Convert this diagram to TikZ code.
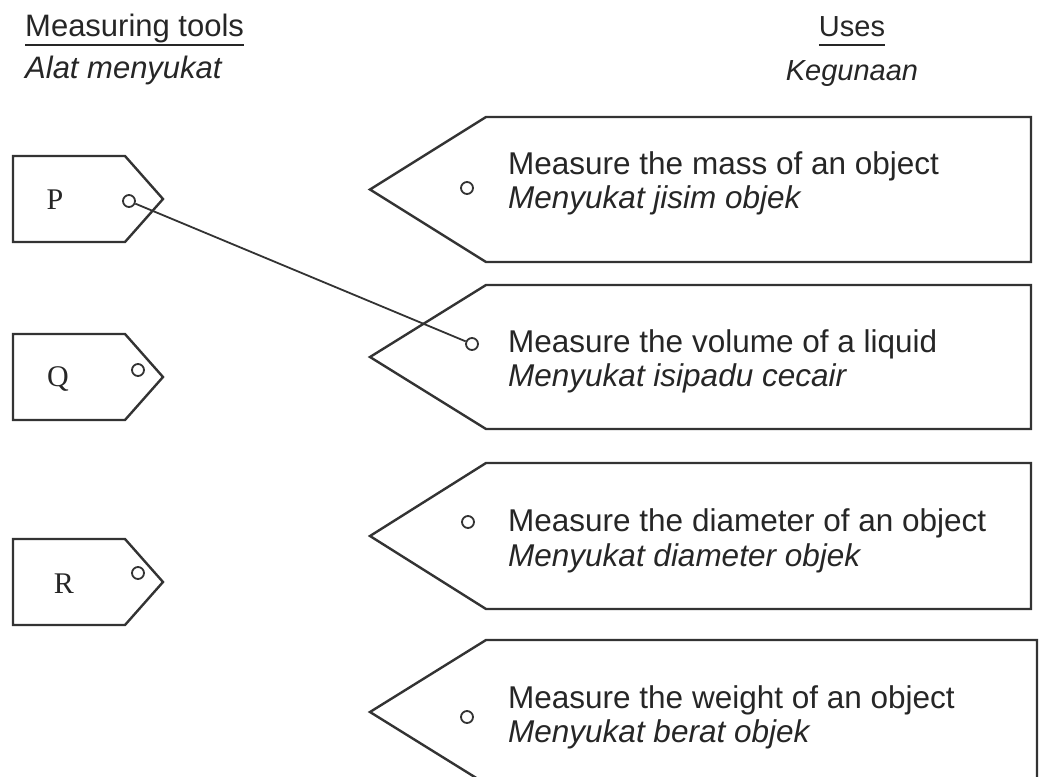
\documentclass[tikz,border=0pt]{standalone}
\usepackage{fontspec}
\setmainfont{Liberation Sans}
\newfontfamily\tagserif{Liberation Serif}
\begin{document}
\begin{tikzpicture}[x=1pt,y=-1pt,
  shapeline/.style={draw=black!80,line width=2.4pt,line join=miter},
  ring/.style={circle,draw=black!80,line width=1.8pt,minimum size=12pt,inner sep=0pt},
  conn/.style={draw=black!80,line width=1.8pt},
  enline/.style={anchor=base west,font=\fontsize{31.5}{36}\selectfont,inner sep=0pt,text=black!85},
  myline/.style={anchor=base west,font=\fontsize{31.5}{36}\selectfont\itshape,inner sep=0pt,text=black!85},
  headtxt/.style={anchor=base west,font=\fontsize{31}{34}\selectfont,inner sep=0pt,text=black!85},
  headit/.style={anchor=base west,font=\fontsize{31}{34}\selectfont\itshape,inner sep=0pt,text=black!85},
  uhead/.style={anchor=base,font=\fontsize{29}{34}\selectfont,inner sep=0pt,text=black!85},
  uheadit/.style={anchor=base,font=\fontsize{29}{34}\selectfont\itshape,inner sep=0pt,text=black!85},
  taglabel/.style={font=\tagserif\fontsize{30}{34}\selectfont,inner sep=0pt,text=black!85},
  uline/.style={draw=black!85,line width=2pt}]
\useasboundingbox (0,0) rectangle (1040,776);
\clip (0,0) rectangle (1040,776);

% headings
\node[headtxt] (h1) at (25,37) {Measuring tools};
\node[headit] (h2) at (25,78) {Alat menyukat};
\node[uhead] (h3) at (852,37) {Uses};
\node[uheadit] (h4) at (852,80) {Kegunaan};
\draw[uline] ([yshift=-8pt]h1.base west) -- ([yshift=-8pt]h1.base east);
\draw[uline] ([yshift=-8pt]h3.base west) -- ([yshift=-8pt]h3.base east);

% left tags
\foreach \c in {199,377,582}{
  \draw[shapeline] (13,\c-43) -- (125,\c-43) -- (163,\c) -- (125,\c+43) -- (13,\c+43) -- cycle;
}
\node[taglabel] (P) at (55,200) {P};
\node[taglabel] (Q) at (58,379) {Q};
\node[taglabel] (R) at (64,584) {R};
\node[ring] (cP) at (129,201) {};
\node[ring] (cQ) at (138,370) {};
\node[ring] (cR) at (138,573) {};

% right boxes
\foreach \t/\b/\r in {117/262/1031,285/429/1031,463/609/1031,640/784/1037}{
  \draw[shapeline] (370,{(\t+\b)/2}) -- (486,\t) -- (\r,\t) -- (\r,\b) -- (486,\b) -- cycle;
}
\node[ring] (c1) at (467,188) {};
\node[ring] (c2) at (472,344) {};
\node[ring] (c3) at (468,522) {};
\node[ring] (c4) at (467,717) {};

\node[enline] (u1a) at (508,174) {Measure the mass of an object};
\node[myline] (u1b) at (508,208) {Menyukat jisim objek};
\node[enline] (u2a) at (508,352) {Measure the volume of a liquid};
\node[myline] (u2b) at (508,386) {Menyukat isipadu cecair};
\node[enline] (u3a) at (508,531) {Measure the diameter of an object};
\node[myline] (u3b) at (508,566) {Menyukat diameter objek};
\node[enline] (u4a) at (508,708) {Measure the weight of an object};
\node[myline] (u4b) at (508,742) {Menyukat berat objek};

% connector
\draw[conn] (cP) -- (c2);
\end{tikzpicture}
\end{document}
